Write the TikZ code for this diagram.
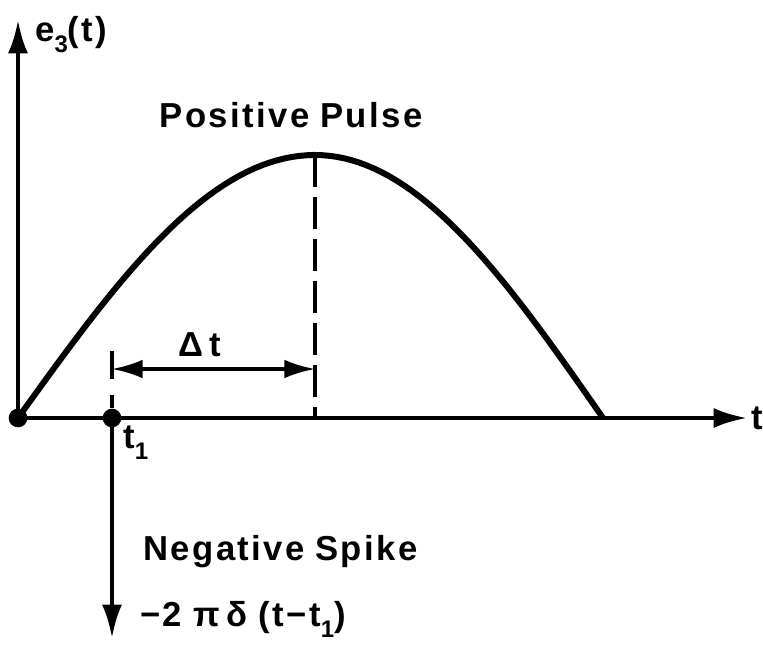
\documentclass[tikz,border=0pt]{standalone}
\usepackage{fontspec}
\setmainfont{Liberation Sans}[LetterSpace=7]
\usetikzlibrary{arrows.meta}
\newcommand{\lowsub}[1]{\raisebox{-0.6ex}{\fontsize{18}{18}\selectfont #1}}
\begin{document}
\begin{tikzpicture}[x=0.75pt,y=-0.75pt,
  axis/.style={line width=3.3pt},
  bigtip/.style={-{Latex[length=25pt,width=15pt]}},
  curve/.style={line width=4.5pt},
  dimline/.style={line width=2.5pt},
  dashline/.style={line width=3.2pt, dash pattern=on 24pt off 7.5pt},
  lbl/.style={font=\fontsize{26}{30}\selectfont\bfseries, inner sep=0pt},
  dot/.style={circle, fill=black, inner sep=0pt, minimum size=14pt}]
\useasboundingbox (0,0) rectangle (763,648);
% points
\node[dot] (O) at (18,418) {};
\node[dot] (T1) at (112,418) {};
\coordinate (ytop) at (18,20);
\coordinate (xend) at (747,418);
\coordinate (spk) at (112,638);
\coordinate (P) at (315,155);
\coordinate (Pb) at (315,418);
\coordinate (tk) at (112,351);
\coordinate (tkm) at (112,379);
\coordinate (dl) at (112,369);
\coordinate (dr) at (315,369);
% axes
\draw[axis,bigtip] (O.center) -- (ytop);
\draw[axis,bigtip] (O.center) -- (xend);
\draw[axis,bigtip] (T1.center) -- (spk);
% pulse
\draw[curve] plot[domain=0:90,samples=40] ({18+3.3*\x},{418-263*sin(\x)})
  -- plot[domain=90:180,samples=40] ({315+3.2*(\x-90)},{418-263*sin(\x)});
% dashed lines
\draw[dashline] (P) -- (Pb);
\draw[dimline] (tk) -- (tkm);
\draw[dashline, dash pattern=on 0pt off 12pt on 10pt off 30pt] (tkm) -- (T1.center);
\draw[dimline,{Latex[length=23pt,width=14pt]}-{Latex[length=23pt,width=14pt]}] (dl) -- (dr);
% labels
\node[lbl,anchor=west] (ylab) at (35,35) {e\lowsub{3}(t)};
\node[lbl,anchor=west] (xlab) at (751,418) {t};
\node[lbl] (pp) at (291,115) {Positive\hspace{8pt}Pulse};
\node[lbl] (dt) at (200,345) {Δ\,t};
\node[lbl,anchor=west] (t1) at (123,443) {t\lowsub{1}};
\node[lbl,anchor=west] (ns) at (143,552) {Negative\hspace{8pt}Spike};
\node[lbl,anchor=west] (fx) at (140,619) {−2\,\,π\,δ\,\,(t−t\lowsub{1})};
\end{tikzpicture}
\end{document}
